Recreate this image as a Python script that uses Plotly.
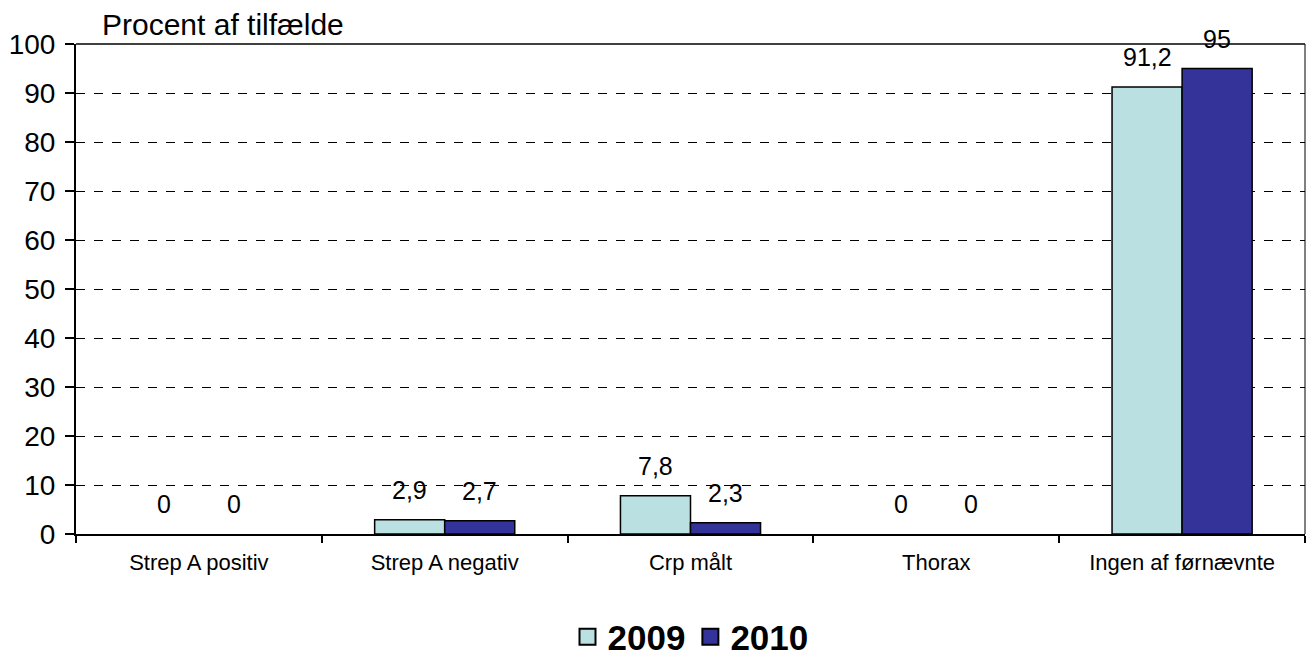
import plotly.graph_objects as go

categories = ["Strep A positiv", "Strep A negativ", "Crp målt", "Thorax", "Ingen af førnævnte"]
series_names = ["2009", "2010"]
values_2009 = [0, 2.9, 7.8, 0, 91.2]
values_2010 = [0, 2.7, 2.3, 0, 95]
y_ticks = [0, 10, 20, 30, 40, 50, 60, 70, 80, 90, 100]
colors = ["#BAE0E2", "#333399"]

FONT = "Liberation Sans, Arial, sans-serif"
BARGAP = 0.43


def fmt(v):
    s = ("%g" % v).replace(".", ",")
    return s


fig = go.Figure()
for name, vals, col in zip(series_names, [values_2009, values_2010], colors):
    fig.add_trace(go.Bar(
        x=categories, y=vals, name=name, legendgroup=name, showlegend=False,
        marker=dict(color=col,
                    line=dict(color="black", width=[1.5 if v else 0 for v in vals])),
    ))
    # legend entry with a larger square swatch
    fig.add_trace(go.Scatter(
        x=[None], y=[None], mode="markers", name=name, legendgroup=name,
        marker=dict(symbol="square", size=22, color=col,
                    line=dict(color="black", width=2)),
    ))

# data labels above each bar
half = (1 - BARGAP) / 4
for si, vals in enumerate([values_2009, values_2010]):
    off = -half if si == 0 else half
    for i, v in enumerate(vals):
        fig.add_annotation(
            x=i + off, y=v, xref="x", yref="y", text=fmt(v),
            showarrow=False, yanchor="bottom", yshift=14,
            font=dict(family=FONT, size=25, color="black"),
        )

fig.add_annotation(
    x=0.0195, y=1.04, xref="paper", yref="paper", text="Procent af tilfælde",
    showarrow=False, xanchor="left", yanchor="middle",
    font=dict(family=FONT, size=30, color="black"),
)

# top and right frame lines
fig.add_shape(type="line", xref="paper", yref="paper", x0=0, x1=1, y0=1, y1=1,
              line=dict(color="black", width=1.5))
fig.add_shape(type="line", xref="paper", yref="paper", x0=1, x1=1, y0=0, y1=1,
              line=dict(color="black", width=1))

fig.update_layout(
    template="none",
    width=1309, height=656,
    margin=dict(l=76, r=4, t=44, b=122, autoexpand=False),
    paper_bgcolor="white", plot_bgcolor="white",
    barmode="group", bargap=BARGAP, bargroupgap=0,
    font=dict(family=FONT, color="black"),
    legend=dict(
        orientation="h", x=0.5, xanchor="center", y=-0.21, yanchor="middle",
        font=dict(family=FONT, size=35, color="black", weight="bold"),
        itemwidth=30, tracegroupgap=0,
    ),
    xaxis=dict(
        type="category", tickson="boundaries", ticks="outside", ticklen=7,
        tickwidth=2, tickcolor="black", automargin=False,
        showline=True, linecolor="black", linewidth=2,
        showgrid=False, tickfont=dict(family=FONT, size=22, color="black"),
        ticklabelstandoff=8,
    ),
    yaxis=dict(
        range=[0, 100], tickvals=y_ticks, ticks="outside", ticklen=9,
        tickwidth=2, tickcolor="black", automargin=False,
        showline=True, linecolor="black", linewidth=2,
        showgrid=True, gridcolor="black", gridwidth=1, griddash="dash",
        zeroline=False,
        tickfont=dict(family=FONT, size=28, color="black"),
        ticklabelstandoff=4,
    ),
)

fig.write_html(
    "out.html",
    config={"displayModeBar": False},
    post_script="document.body.style.margin='0px';document.body.style.overflow='hidden';",
)
